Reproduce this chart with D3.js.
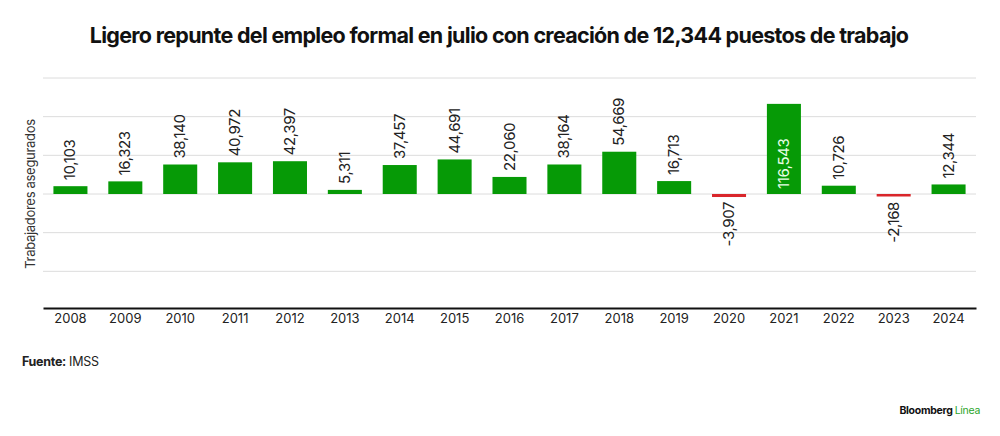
<!DOCTYPE html>
<head>
<meta charset="utf-8">
<script src="https://d3js.org/d3.v7.min.js"></script>
<style>
  html, body { margin: 0; padding: 0; background: #fff; }
  * { font-family: "Inter", "Roboto", sans-serif; }
</style>
</head>
<body>
<svg width="1000" height="436"></svg>
<script>

// data
var years = ["2008","2009","2010","2011","2012","2013","2014","2015","2016",
             "2017","2018","2019","2020","2021","2022","2023","2024"];
var jobs = [10103, 16323, 38140, 40972, 42397, 5311, 37457, 44691, 22060,
            38164, 54669, 16713, -3907, 116543, 10726, -2168, 12344];
var gridValues = [-100000, -50000, 0, 50000, 100000, 150000];

var svg = d3.select("svg");

var x = d3.scaleBand()
    .domain(years)
    .range([43, 976])
    .paddingInner(0.38)
    .paddingOuter(0.19);

var y = d3.scaleLinear()
    .domain([-150000, 150000])
    .range([310, 78]);

// plain hyphen for negatives, like the original
var fmt = function(d) { return d3.format(",")(d).replace("\u2212", "-"); };

// title
svg.append("text")
    .attr("x", 499).attr("y", 43)
    .attr("text-anchor", "middle")
    .attr("font-size", 21.5)
    .attr("font-weight", 700)
    .attr("letter-spacing", -0.7)
    .attr("fill", "#111")
    .text("Ligero repunte del empleo formal en julio con creación de 12,344 puestos de trabajo");

// gridlines
svg.append("g").selectAll("line")
    .data(gridValues)
    .enter().append("line")
    .attr("x1", 43).attr("x2", 976)
    .attr("y1", function(d) { return y(d); })
    .attr("y2", function(d) { return y(d); })
    .attr("stroke", "#dcdcdc")
    .attr("stroke-width", 1);

// bottom axis
var xAxis = svg.append("g")
    .attr("transform", "translate(0," + 308 + ")")
    .call(d3.axisBottom(x).tickSize(0).tickPadding(6));
xAxis.select(".domain").attr("stroke", "#111").attr("stroke-width", 2);
xAxis.selectAll("text")
    .attr("font-size", 13)
    .attr("fill", "#222")
    .attr("font-family", "Inter, sans-serif");

// y axis title
svg.append("text")
    .attr("transform", "translate(35,194) rotate(-90)")
    .attr("text-anchor", "middle")
    .attr("font-size", 13)
    .attr("fill", "#333")
    .attr("letter-spacing", -0.3)
    .text("Trabajadores asegurados");

// bars
svg.append("g").selectAll("rect")
    .data(jobs)
    .enter().append("rect")
    .attr("x", function(d, i) { return x(years[i]); })
    .attr("width", x.bandwidth())
    .attr("y", function(d) { return y(Math.max(0, d)); })
    .attr("height", function(d) { return Math.max(2.5, Math.abs(y(d) - y(0))); })
    .attr("fill", function(d) { return d < 0 ? "#d9262b" : "#069a06"; });

// value labels
svg.append("g").selectAll("text")
    .data(jobs)
    .enter().append("text")
    .attr("transform", function(d, i) {
      var cx = x(years[i]) + x.bandwidth() / 2 + 5;
      var yy;
      if (d < 0) yy = y(0) + 8;
      else if (d > 100000) yy = y(0) - 5;
      else yy = y(d) - 6;
      return "translate(" + cx + "," + yy + ") rotate(-90)";
    })
    .attr("text-anchor", function(d) { return d < 0 ? "end" : "start"; })
    .attr("font-size", 15)
    .attr("letter-spacing", -0.4)
    .attr("fill", function(d) { return d > 100000 ? "#e8ffe8" : "#222"; })
    .text(function(d) { return fmt(d); });

// source
var src = svg.append("text")
    .attr("x", 22).attr("y", 366)
    .attr("font-size", 12.5)
    .attr("letter-spacing", -0.3)
    .attr("fill", "#222");
src.append("tspan").attr("font-weight", 700).text("Fuente:");
src.append("tspan").text(" IMSS");

// brand
var brand = svg.append("text")
    .attr("x", 980).attr("y", 414)
    .attr("text-anchor", "end")
    .attr("font-size", 10.5)
    .attr("font-weight", 700)
    .attr("letter-spacing", -0.3)
    .attr("fill", "#111");
brand.append("tspan").text("Bloomberg ");
brand.append("tspan").attr("fill", "#2aa52a").attr("font-weight", 400).text("Línea");

</script>
</body>
